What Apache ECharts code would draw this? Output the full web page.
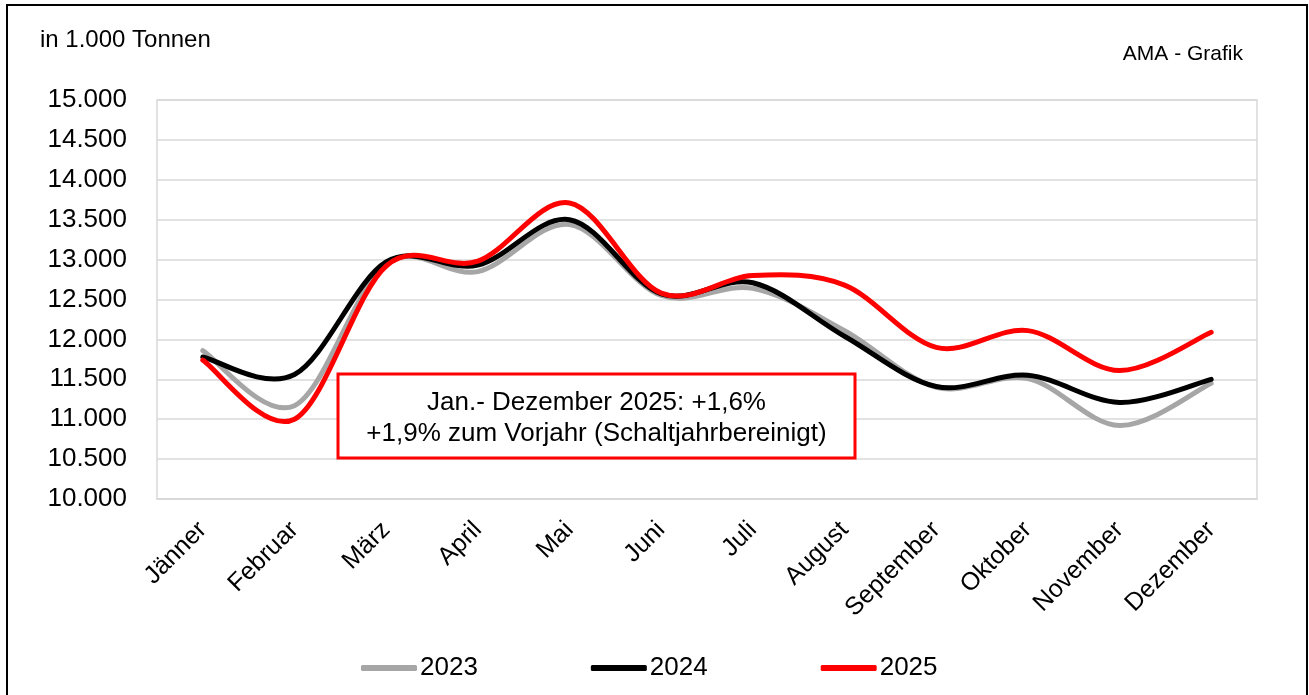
<!DOCTYPE html>
<html>
<head>
<meta charset="utf-8">
<script src="https://cdn.jsdelivr.net/npm/echarts@6/dist/echarts.min.js"></script>
<style>html,body{margin:0;padding:0;background:#fff;}#c{width:1309px;height:695px;}</style>
</head>
<body>
<div id="c"></div>
<script>
const months = ['Jänner','Februar','März','April','Mai','Juni','Juli','August','September','Oktober','November','Dezember'];
const y2023 = [11860, 11170, 12950, 12850, 13440, 12550, 12640, 12110, 11400, 11510, 10920, 11450];
const y2024 = [11780, 11560, 12970, 12930, 13500, 12570, 12710, 12040, 11410, 11550, 11210, 11500];
const y2025 = [11740, 11000, 12920, 12980, 13710, 12580, 12800, 12680, 11900, 12110, 11610, 12090];
const seriesNames = ['2023','2024','2025'];
const unitLabel = 'in 1.000 Tonnen';
const sourceLabel = 'AMA - Grafik';
const noteText = 'Jan.- Dezember 2025: +1,6%\n+1,9% zum Vorjahr (Schaltjahrbereinigt)';

const FONT = '"Liberation Sans", Arial, sans-serif';
const chart = echarts.init(document.getElementById('c'), null, {renderer: 'canvas'});

function fmt(v) {
  const s = String(Math.round(v));
  return s.length > 3 ? s.slice(0, s.length - 3) + '.' + s.slice(-3) : s;
}

const colors = ['#a6a6a6', '#000000', '#ff0000'];
const dataSets = [y2023, y2024, y2025];

// Smooth curve through the data points (Catmull-Rom -> cubic Bezier), positioned by the chart's own scales
function makeRenderer(vals, color) {
  return function (params, api) {
    if (params.dataIndex !== 0) return null;
    const pts = vals.map((v, i) => api.coord([i, v]));
    const n = pts.length;
    let d = 'M' + pts[0][0] + ' ' + pts[0][1];
    for (let i = 0; i < n - 1; i++) {
      const p0 = pts[i - 1] || pts[i];
      const p1 = pts[i];
      const p2 = pts[i + 1];
      const p3 = pts[i + 2] || pts[i + 1];
      const c1x = p1[0] + (p2[0] - p0[0]) / 6, c1y = p1[1] + (p2[1] - p0[1]) / 6;
      const c2x = p2[0] - (p3[0] - p1[0]) / 6, c2y = p2[1] - (p3[1] - p1[1]) / 6;
      d += ' C' + c1x + ' ' + c1y + ' ' + c2x + ' ' + c2y + ' ' + p2[0] + ' ' + p2[1];
    }
    return {
      type: 'path',
      shape: {pathData: d},
      style: {fill: 'none', stroke: color, lineWidth: 5, lineCap: 'round', lineJoin: 'round'}
    };
  };
}

chart.setOption({
  animation: false,
  backgroundColor: '#ffffff',
  grid: {left: 157, right: 52, top: 100, bottom: 196, show: true, borderColor: '#d9d9d9', borderWidth: 1.5},
  legend: {
    data: seriesNames,
    left: 356, top: 650,
    itemWidth: 56, itemHeight: 6, itemGap: 113,
    icon: 'roundRect',
    textStyle: {fontFamily: FONT, fontSize: 26, color: '#000', padding: [0,0,0,-2]}
  },
  xAxis: {
    type: 'category',
    data: months,
    boundaryGap: true,
    axisLine: {lineStyle: {color: '#d9d9d9', width: 1.5}},
    axisTick: {show: false},
    axisLabel: {rotate: 45, fontFamily: FONT, fontSize: 25, color: '#000', margin: 27, interval: 0}
  },
  yAxis: {
    type: 'value',
    min: 10000, max: 15000, interval: 500,
    axisLine: {show: false},
    axisTick: {show: false},
    splitLine: {lineStyle: {color: '#d9d9d9', width: 1.5}},
    axisLabel: {fontFamily: FONT, fontSize: 26, color: '#000', margin: 30, formatter: fmt}
  },
  series: seriesNames.map((n, i) => ({
    name: n,
    type: 'custom',
    data: dataSets[i].map((v, k) => [k, v]),
    encode: {x: 0, y: 1},
    renderItem: makeRenderer(dataSets[i], colors[i]),
    clip: false,
    color: colors[i],
    itemStyle: {color: colors[i]},
    z: 2 + i
  })),
  graphic: [
    {type: 'rect', shape: {x: 7, y: 5, width: 1300, height: 700}, style: {fill: 'none', stroke: '#000', lineWidth: 2}, z: 100, silent: true},
    {type: 'text', left: 40, top: 28, style: {text: unitLabel, font: '24px ' + FONT, fill: '#000'}, z: 100},
    {type: 'text', right: 1309 - 1243, top: 44, style: {text: sourceLabel, font: '21px ' + FONT, fill: '#000'}, z: 100},
    {type: 'group', z: 100, children: [
      {type: 'rect', shape: {x: 338, y: 374, width: 517, height: 84}, style: {fill: '#fff', stroke: '#ff0000', lineWidth: 3}, z: 100},
      {type: 'text', x: 596.5, y: 418, style: {text: noteText, font: '26px ' + FONT, fill: '#000', align: 'center', verticalAlign: 'middle', lineHeight: 31}, z: 101}
    ]}
  ]
});
</script>
</body>
</html>
